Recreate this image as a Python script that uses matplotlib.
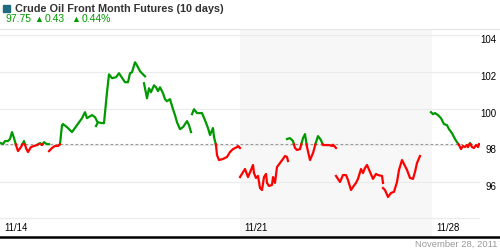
import numpy as np
import matplotlib
matplotlib.use("Agg")
import matplotlib.pyplot as plt
from matplotlib.lines import Line2D
from matplotlib.patches import Rectangle

plt.rcParams['font.family'] = ['Liberation Sans', 'DejaVu Sans']

# position in the 10-day window (0..480) and price; nan = break between sessions
times = [1, 3, 5, 8, 10, 12, 14, 16, 18, 21, 24, 26, 28, 31, 34, 37, 40, 42, 44, 47, 49, np.nan,
         49, 52, 55, 58, 60, 62, 63, 67, 72, 77, 82, 85, 87, 92, 95, 97, np.nan,
         96, 98, 102, 104, 107, 109, 112, 116, 119, 123, 125, 128, 130, 132, 135, 137, 140, 143, 145, np.nan,
         144, 147, 149, 151, 154, 156, 158, 160, 163, 165, 167, 170, 173, 175, 177, 180, 183, 187, 189, 191, np.nan,
         192, 194, 197, 202, 205, 208, 210, 213, 214, 216, 217, 219, 223, 227, 230, 233, 237, 238, 240, np.nan,
         240, 245, 248, 251, 253, 254, 256, 258, 260, 262, 264, 266, 267, 269, 272, 273, 275, 277, 280, 283, 285, 287, 288, np.nan,
         287, 290, 293, 295, 297, 300, 303, 305, 307, 310, 313, 316, 318, 321, 323, 326, 329, 332, 333, 336, np.nan,
         336, 340, 343, 346, 348, 351, 353, 356, 358, 361, 363, 365, 367, 370, 373, 376, 378, 382, 383, np.nan,
         383, 385, 388, 391, 394, 397, 399, 402, 404, 407, 410, 413, 415, 417, 420, np.nan,
         431, 433, 435, 438, 441, 444, 447, 449, 452, 455, 457, 459, 461, 463, 465, 467, 468, 470, 472, 474, 476, 478, 479]
prices = [98.11, 98.05, 98.22, 98.22, 98.33, 98.71, 98.38, 98.00, 97.67, 97.89, 98.22, 97.84, 97.62, 97.89, 97.95, 98.00, 98.11, 98.00, 98.16, 98.05, 98.05, np.nan,
          97.67, 97.84, 97.95, 97.95, 98.05, 99.09, 99.15, 98.98, 98.71, 99.09, 99.47, 99.80, 99.47, 99.64, 99.53, 99.31, np.nan,
          99.04, 99.25, 99.20, 99.20, 100.89, 101.87, 101.66, 101.71, 101.93, 101.60, 101.44, 101.44, 101.93, 101.98, 102.53, 102.36, 102.04, 101.87, 101.76, np.nan,
          101.38, 100.56, 101.11, 100.89, 101.27, 101.16, 100.95, 101.16, 100.84, 100.51, 100.40, 100.51, 99.96, 99.64, 99.25, 98.87, 98.98, 99.31, 99.09, 98.71, np.nan,
          99.69, 99.96, 99.75, 99.75, 99.36, 98.93, 98.55, 98.93, 98.44, 98.00, 97.45, 97.18, 97.24, 97.35, 97.62, 97.78, 97.89, 97.95, 97.84, np.nan,
          96.25, 96.69, 96.25, 96.64, 96.91, 96.47, 96.20, 96.31, 95.65, 95.54, 96.25, 96.42, 95.93, 95.76, 95.82, 96.25, 95.93, 96.80, 97.02, 97.24, 97.40, 97.35, 97.13, np.nan,
          98.33, 98.38, 98.22, 97.84, 97.73, 97.78, 98.38, 98.60, 97.89, 97.18, 97.56, 98.16, 98.49, 98.27, 98.00, 98.00, 98.00, 97.95, 98.02, 97.84, np.nan,
          96.31, 95.98, 96.36, 96.36, 96.09, 95.54, 95.71, 95.93, 96.15, 96.69, 96.47, 96.75, 96.91, 96.53, 96.15, 96.42, 96.36, 96.31, 95.93, np.nan,
          95.65, 95.54, 95.16, 95.38, 95.44, 95.98, 96.64, 97.18, 96.96, 96.64, 96.20, 96.15, 96.53, 97.02, 97.40, np.nan,
          99.80, 99.69, 99.75, 99.64, 99.47, 99.15, 99.09, 98.87, 98.65, 98.33, 98.16, 98.00, 97.78, 97.95, 97.89, 98.00, 97.89, 98.11, 97.89, 97.84, 98.00, 97.89, 98.05]

ref_price = 98.04
week_starts = [0, 240, 432]
week_labels = ["11/14", "11/21", "11/28"]
shade_from, shade_to = 240, 432
yticks = [96, 98, 100, 102, 104]

title = "Crude Oil Front Month Futures (10 days)"
last_price = "97.75"
change = "0.43"
change_pct = "0.44%"
date_note = "November 28, 2011"

green = "#009900"
red = "#ff0000"


def draw_colored(ax, t, p, ref):
    xs = [t[0]]
    ys = [p[0]]
    for i in range(1, len(t)):
        if (p[i-1] - ref) * (p[i] - ref) < 0:
            f = (ref - p[i-1]) / (p[i] - p[i-1])
            xs.append(t[i-1] + f * (t[i] - t[i-1]))
            ys.append(ref)
        xs.append(t[i])
        ys.append(p[i])
    xs = np.array(xs)
    ys = np.array(ys)
    ax.plot(xs, np.ma.masked_where(ys < ref, ys), color=green, lw=1.6, solid_joinstyle='round', zorder=4)
    ax.plot(xs, np.ma.masked_where(ys > ref, ys), color=red, lw=1.6, solid_joinstyle='round', zorder=4)


fig = plt.figure(figsize=(5, 2.5), dpi=100)
ax = fig.add_axes([0, 13/250, 480/500, 208/250])

t = np.array(times, dtype=float)
p = np.array(prices, dtype=float)
breaks = np.where(np.isnan(t))[0]
start = 0
for b in list(breaks) + [len(t)]:
    draw_colored(ax, t[start:b], p[start:b], ref_price)
    start = b + 1

ax.set_xlim(0, 480)
ax.set_ylim(92.97, 104.35)
ax.axvspan(shade_from, shade_to, color="#f7f7f7", zorder=0, lw=0)
for v in yticks + [94]:
    ax.axhline(v, color="#ebebeb", lw=0.8, zorder=1)
ax.axhline(ref_price, color="#999999", lw=0.8, ls=(0, (2.5, 2)), zorder=3)

for x, lab in zip(week_starts, week_labels):
    ax.text(x + 4, 0.045, lab, transform=ax.get_xaxis_transform(), fontsize=6.9,
            ha="left", va="center", color="black")

ax.set_xticks([])
ax.yaxis.tick_right()
ax.set_yticks(yticks)
ax.set_yticklabels([str(v) for v in yticks])
ax.tick_params(axis="y", length=0, pad=12, labelsize=7)
for lab in ax.get_yticklabels():
    lab.set_horizontalalignment("right")
    lab.set_verticalalignment("top")
for s in ax.spines.values():
    s.set_visible(False)

# header
fig.add_artist(Rectangle((3/500, 1 - 12/250), 7/500, 7/250, transform=fig.transFigure, color="#1f6b7f"))
fig.text(15/500, 1 - 8.5/250, title, fontsize=7.85, fontweight="bold", color="#333333", va="center")
fig.text(5/500, 1 - 19.5/250, last_price, fontsize=7.5, color=green, va="center")
fig.text(34/500, 1 - 19/250, "\u25b2", fontsize=6.5, color=green, va="center")
fig.text(45/500, 1 - 19.5/250, change, fontsize=7.5, color=green, va="center")
fig.text(71/500, 1 - 19/250, "\u25b2", fontsize=6.5, color=green, va="center")
fig.text(82/500, 1 - 19.5/250, change_pct, fontsize=7.5, color=green, va="center")
fig.add_artist(Line2D([0, 1], [1 - 28.5/250, 1 - 28.5/250], transform=fig.transFigure, color="#e4e4e4", lw=0.8))

# footer
fig.add_artist(Line2D([0, 1], [13/250, 13/250], transform=fig.transFigure, color="black", lw=1.8))
fig.text(497/500, 1 - 244.5/250, date_note, fontsize=6.8, color="#999999", ha="right", va="center")

fig.savefig("out.png", dpi=100)
